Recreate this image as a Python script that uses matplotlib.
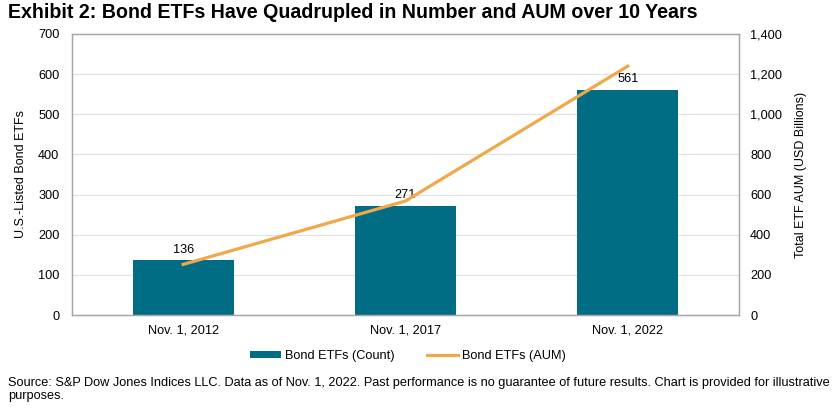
import matplotlib
matplotlib.use("Agg")
import matplotlib.pyplot as plt
import numpy as np

plt.rcParams['font.family'] = ['Liberation Sans', 'DejaVu Sans']

categories = ["Nov. 1, 2012", "Nov. 1, 2017", "Nov. 1, 2022"]
etf_count = [136, 271, 561]
etf_aum = [252, 568, 1240]

bar_color = "#006D85"
line_color = "#F0A84A"
grid_color = "#E3E3E3"
spine_color = "#A6A6A6"

fs = 9.2

fig = plt.figure(figsize=(8.4, 4.18), dpi=100)
ax = fig.add_axes([72/840, 1-315/418, (739-72)/840, (315-34)/418])
ax2 = ax.twinx()

x = np.arange(len(categories))
ax.bar(x, etf_count, width=0.455, color=bar_color, zorder=2, label="Bond ETFs (Count)")
for xi, v in zip(x, etf_count):
    ax.text(xi, v + 12, str(v), ha="center", va="bottom", fontsize=fs, color="black")

ax2.plot(x, etf_aum, color=line_color, lw=2.3, zorder=3, label="Bond ETFs (AUM)")

ax.set_xlim(-0.5, 2.5)
ax.set_ylim(0, 700)
ax.set_yticks(np.arange(0, 701, 100))
ax2.set_ylim(0, 1400)
ax2.set_yticks(np.arange(0, 1401, 200))
ax2.set_yticklabels([f"{v:,}" for v in range(0, 1401, 200)])
ax.set_xticks(x)
ax.set_xticklabels(categories)

ax.yaxis.grid(True, color=grid_color, lw=0.8, zorder=0)
ax.set_axisbelow(True)

for a in (ax, ax2):
    for s in a.spines.values():
        s.set_color(spine_color)
        s.set_linewidth(0.9)
    a.tick_params(length=0, labelsize=fs, colors="black")
ax.tick_params(axis="y", pad=9)
ax2.tick_params(axis="y", pad=8)
ax.tick_params(axis="x", pad=7)

ax.set_ylabel("U.S.-Listed Bond ETFs", fontsize=9, labelpad=8)
ax2.set_ylabel("Total ETF AUM (USD Billions)", fontsize=9, labelpad=9)

fig.text(8/840, 1-13/418, "Exhibit 2: Bond ETFs Have Quadrupled in Number and AUM over 10 Years",
         fontsize=14.1, fontweight="bold", ha="left", va="center")

h1, l1 = ax.get_legend_handles_labels()
h2, l2 = ax2.get_legend_handles_labels()
fig.legend(h1 + h2, l1 + l2, loc="center", bbox_to_anchor=(408/840, 1-356/418), ncol=2,
           frameon=False, fontsize=fs, handlelength=2.4, handleheight=0.5,
           columnspacing=2.6, handletextpad=0.3)

fig.text(8/840, 1-377/418,
         "Source: S&P Dow Jones Indices LLC. Data as of Nov. 1, 2022. Past performance is no guarantee of future results. Chart is provided for illustrative\npurposes.",
         fontsize=9.2, ha="left", va="top", linespacing=1.15)

fig.savefig("out.png", dpi=100)
